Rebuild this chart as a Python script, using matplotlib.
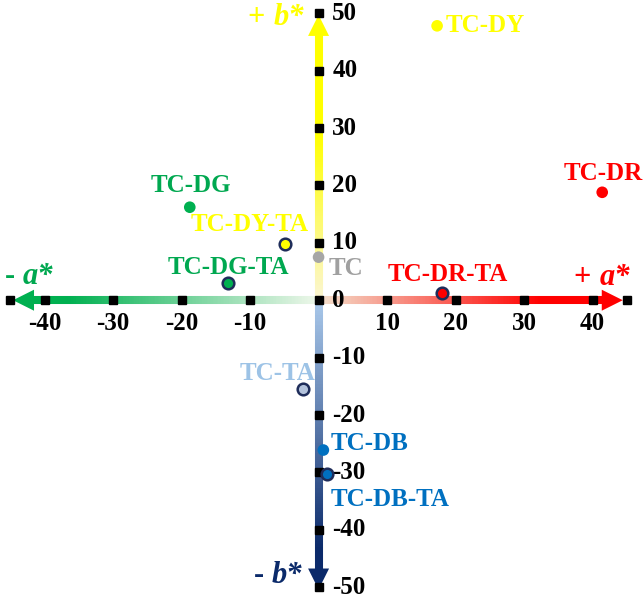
import numpy as np
import matplotlib
matplotlib.use("Agg")
import matplotlib.pyplot as plt
from matplotlib.collections import LineCollection
from matplotlib.colors import LinearSegmentedColormap
from matplotlib.patches import Polygon

# sample points (a*, b*)
names = ["TC", "TC-TA", "TC-DY", "TC-DY-TA", "TC-DR", "TC-DR-TA",
         "TC-DG", "TC-DG-TA", "TC-DB", "TC-DB-TA"]
a_vals = [0.0, -2.3, 17.3, -4.9, 41.4, 18.0, -18.8, -13.2, 0.7, 1.2]
b_vals = [7.5, -15.5, 47.8, 9.8, 18.8, 1.2, 16.2, 3.0, -26.1, -30.3]
fill_cols = ["#a6a6a6", "#b4c3dc", "#ffff00", "#ffff00", "#ff0000", "#ff0000",
             "#00b050", "#00b050", "#0070c0", "#0070c0"]
edge_cols = ["none", "#1f2d5a", "none", "#1f2d5a", "none", "#1f2d5a",
             "none", "#1f2d5a", "none", "#1f2d5a"]

# label text positions and styling
label_x = [1.4, -6.0, 18.5, -10.1, 41.5, 18.9, -18.6, -13.2, 1.7, 1.7]
label_y = [5.6, -12.7, 47.9, 13.2, 22.1, 4.4, 19.9, 5.7, -24.9, -34.8]
label_ha = ["left", "center", "left", "center", "center", "center",
            "center", "center", "left", "left"]
label_cols = ["#a0a0a0", "#9dc3e6", "#ffff00", "#ffff00", "#ff0000", "#ff0000",
              "#00a850", "#00a850", "#0070c0", "#0070c0"]

x_ticks = [-40, -30, -20, -10, 10, 20, 30, 40]
y_ticks = [-50, -40, -30, -20, -10, 0, 10, 20, 30, 40, 50]
a_end = 45
b_end = 50

SERIF = "Liberation Serif"

fig = plt.figure(figsize=(6.44, 6.01), dpi=100)
ax = fig.add_axes([0, 0, 1, 1])
ax.set_xlim(-46.5, 47.5)
ax.set_ylim(-52.4, 52.3)
ax.axis("off")

# pixel -> data scales used for arrowheads
sx = 94.0 / 644
sy = 104.7 / 601


def grad_line(x0, y0, x1, y1, c0, c1, stop=0.9):
    n = 200
    t = np.linspace(0, 1, n + 1)
    xs = x0 + (x1 - x0) * t
    ys = y0 + (y1 - y0) * t
    segs = [[(xs[i], ys[i]), (xs[i + 1], ys[i + 1])] for i in range(n)]
    cmap = LinearSegmentedColormap.from_list("g", [(0, c0), (stop, c1), (1, c1)])
    lc = LineCollection(segs, colors=cmap(t[:-1]), linewidths=5.8,
                        capstyle="butt", zorder=1)
    ax.add_collection(lc)


def head(tipx, tipy, dx, dy, color):
    # dx, dy = unit direction in data; length/width given in pixels
    L, W = 21, 10.5
    if dx != 0:
        base = tipx - dx * L * sx
        pts = [(tipx, tipy), (base, tipy + W * sy), (base, tipy - W * sy)]
    else:
        base = tipy - dy * L * sy
        pts = [(tipx, tipy), (tipx + W * sx, base), (tipx - W * sx, base)]
    ax.add_patch(Polygon(pts, closed=True, color=color, zorder=2, lw=0))


grad_line(0, 0, a_end - 2, 0, "#f3e0cc", "#ff0000", 0.75)
grad_line(0, 0, -a_end + 2, 0, "#eef7ea", "#00b050", 0.85)
grad_line(0, 0, 0, b_end - 2, "#fbf5d2", "#ffff00", 0.6)
grad_line(0, 0, 0, -b_end + 2, "#a9c8ea", "#0b2a6a", 0.9)
head(a_end - 0.6, 0, 1, 0, "#ff0000")
head(-a_end + 0.4, 0, -1, 0, "#00b050")
head(0, b_end - 0.3, 0, 1, "#ffff00")
head(0, -b_end - 0.4, 0, -1, "#0b2a6a")

# tick squares
sq_x = [-a_end] + x_ticks + [a_end]
ax.plot(sq_x, [0] * len(sq_x), ls="none", marker="s", ms=6, color="black", zorder=3)
ax.plot([0] * len(y_ticks), y_ticks, ls="none", marker="s", ms=6, color="black", zorder=3)

tick_font = dict(family=SERIF, weight="bold", size=18, color="black")
for v in x_ticks:
    ax.text(v, -4.0, str(v), ha="center", va="center", **tick_font)
for v in y_ticks:
    ax.text(2.0, v, str(v), ha="left", va="center", **tick_font)

# axis names: upright sign + italic letter
def axis_name(x, y, sign, letter, color):
    ax.text(x, y, sign + " ", ha="right", va="baseline", color=color,
            family=SERIF, weight="bold", size=22)
    ax.text(x, y, letter + "*", ha="left", va="baseline", color=color,
            family=SERIF, weight="bold", style="italic", size=22)

axis_name(41.0, 2.6, "+", "a", "#ff0000")
axis_name(-43.2, 2.8, "-", "a", "#00a850")
axis_name(-6.6, 47.9, "+", "b", "#ffff00")
axis_name(-6.8, -49.3, "-", "b", "#0b2a6a")

# data points
for a, b, fc, ec in zip(a_vals, b_vals, fill_cols, edge_cols):
    ax.scatter(a, b, s=70, c=fc, edgecolors=ec, linewidths=1.8, zorder=5)

for name, lx, ly, ha, col in zip(names, label_x, label_y, label_ha, label_cols):
    ax.text(lx, ly, name, ha=ha, va="center", color=col,
            family=SERIF, weight="bold", size=18, zorder=6)

fig.savefig("out.png", dpi=100)
